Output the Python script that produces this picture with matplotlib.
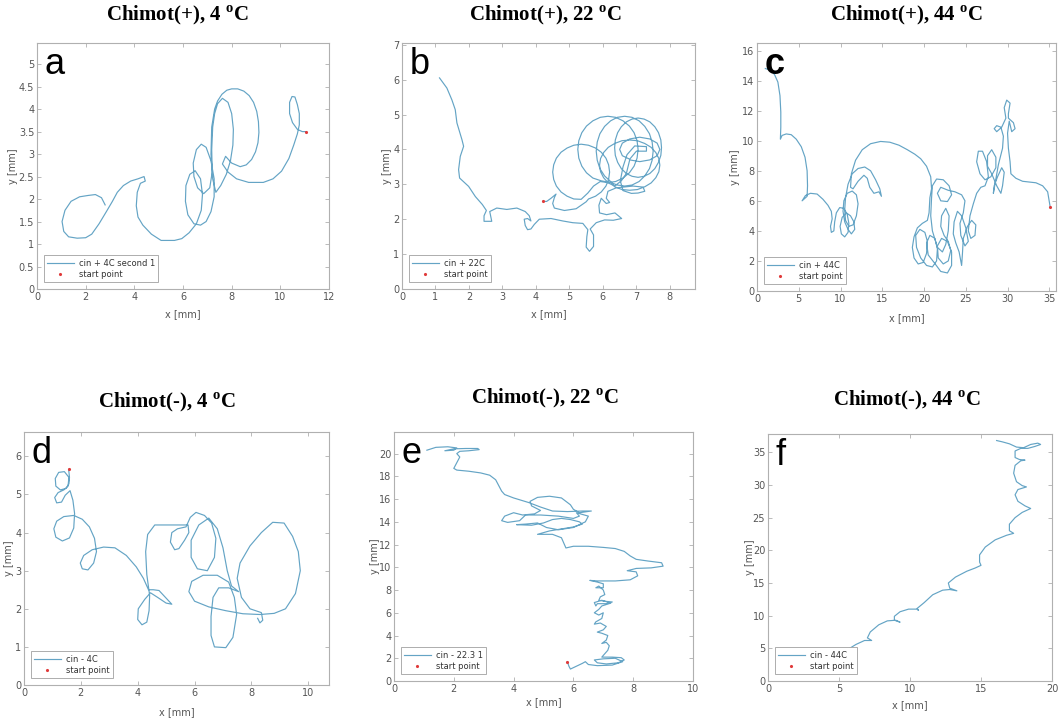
import matplotlib
matplotlib.use('Agg')
import matplotlib.pyplot as plt

plt.rcParams['mathtext.fontset'] = 'custom'
plt.rcParams['mathtext.rm'] = 'Liberation Serif'
plt.rcParams['mathtext.bf'] = 'Liberation Serif:bold'

# ---------------- data (mm) ----------------
titles = ["Chimot(+), 4 $^{\\mathbf{o}}$C", "Chimot(+), 22 $^{\\mathbf{o}}$C", "Chimot(+), 44 $^{\\mathbf{o}}$C",
          "Chimot(-), 4 $^{\\mathbf{o}}$C", "Chimot(-), 22 $^{\\mathbf{o}}$C", "Chimot(-), 44 $^{\\mathbf{o}}$C"]
letters = ["a", "b", "c", "d", "e", "f"]
legend_labels = ["cin + 4C second 1", "cin + 22C", "cin + 44C", "cin - 4C", "cin - 22.3 1", "cin - 44C"]

track_a = [(2.80,1.87),(2.65,2.03),(2.40,2.10),(2.10,2.08),(1.75,2.05),(1.40,1.95),(1.15,1.75),(1.03,1.50),
           (1.10,1.28),(1.30,1.16),(1.65,1.13),(2.00,1.14),(2.25,1.22),(2.55,1.45),(2.85,1.72),(3.10,1.95),
           (3.30,2.15),(3.55,2.30),(3.85,2.40),(4.15,2.45),(4.40,2.50),(4.45,2.40),(4.25,2.35),(4.12,2.15),
           (4.08,1.85),(4.15,1.60),(4.35,1.42),(4.70,1.22),(5.10,1.08),(5.65,1.08),(5.95,1.12),(6.25,1.25),
           (6.55,1.45),(6.75,1.75),(6.80,2.10),(6.72,2.45),(6.50,2.63),(6.28,2.55),(6.12,2.30),(6.10,1.95),
           (6.20,1.65),(6.45,1.45),(6.72,1.42),(6.95,1.50),(7.15,1.72),(7.28,2.05),(7.28,2.45),(7.15,2.85),
           (6.95,3.15),(6.75,3.22),(6.55,3.10),(6.42,2.80),(6.45,2.50),(6.60,2.25),(6.85,2.12),(7.10,2.25),
           (7.20,2.60),(7.18,3.10),(7.22,3.60),(7.30,3.90),(7.42,4.12),(7.62,4.24),(7.85,4.15),(8.00,3.90),
           (8.07,3.55),(8.05,3.20),(7.95,2.85),(7.78,2.55),(7.55,2.30),(7.35,2.15),(7.22,2.45),(7.15,3.00),
           (7.18,3.60),(7.30,4.00),(7.42,4.18),(7.60,4.33),(7.80,4.42),(8.00,4.45),(8.25,4.45),(8.50,4.40),
           (8.72,4.30),(8.90,4.15),(9.03,3.95),(9.10,3.72),(9.12,3.48),(9.08,3.25),(8.98,3.05),(8.82,2.88),
           (8.60,2.76),(8.35,2.72),(8.00,2.80),(7.75,2.95),(7.62,2.78),(7.85,2.60),(8.20,2.45),(8.70,2.37),
           (9.30,2.37),(9.70,2.45),(10.05,2.62),(10.35,2.90),(10.55,3.20),(10.70,3.45),(10.78,3.65),
           (10.78,3.90),(10.70,4.10),(10.60,4.27),(10.48,4.28),(10.38,4.15),(10.38,3.90),(10.50,3.70),
           (10.70,3.55),(10.90,3.50),(11.04,3.50)]
start_a = (11.04, 3.50)

track_b = [(4.20,2.51),(4.32,2.51),(4.45,2.60),(4.60,2.72),(4.55,2.62),(4.50,2.45),(4.55,2.32),(4.85,2.25),
           (5.20,2.30),(5.50,2.50),
           (5.57,2.58),(5.78,2.66),(5.95,2.78),(6.09,2.95),(6.17,3.14),(6.20,3.35),(6.17,3.56),(6.09,3.75),
           (5.95,3.92),(5.78,4.04),(5.57,4.12),(5.35,4.15),(5.13,4.12),(4.93,4.04),(4.75,3.92),(4.61,3.75),
           (4.53,3.56),(4.50,3.35),(4.53,3.14),(4.61,2.95),(4.75,2.78),(4.93,2.66),(5.13,2.58),(5.35,2.57),
           (5.55,2.75),(5.72,2.95),
           (5.92,3.08),(6.15,3.05),(6.38,3.08),(6.60,3.18),(6.79,3.33),(6.93,3.52),(7.02,3.75),(7.05,4.00),
           (7.02,4.25),(6.93,4.48),(6.79,4.67),(6.60,4.82),(6.38,4.92),(6.15,4.95),(5.92,4.92),(5.70,4.82),
           (5.51,4.67),(5.37,4.48),(5.28,4.25),(5.25,4.00),(5.28,3.75),(5.37,3.52),(5.51,3.33),(5.70,3.18),
           (5.95,3.10),(6.23,3.05),
           (6.43,2.98),(6.65,2.95),(6.87,2.98),(7.08,3.08),(7.25,3.24),(7.39,3.45),(7.47,3.69),(7.50,3.95),
           (7.47,4.21),(7.39,4.45),(7.25,4.66),(7.08,4.82),(6.87,4.92),(6.65,4.95),(6.43,4.92),(6.23,4.82),
           (6.05,4.66),(5.91,4.45),(5.83,4.21),(5.80,3.95),(5.83,3.69),(5.91,3.45),(6.05,3.24),(6.23,3.08),
           (6.35,2.93),(6.57,2.85),(6.80,2.83),(7.03,2.85),(7.25,2.93),(7.44,3.04),(7.58,3.19),(7.67,3.36),
           (7.70,3.55),(7.67,3.74),(7.58,3.91),(7.44,4.06),(7.25,4.17),(7.03,4.25),(6.80,4.27),(6.57,4.25),
           (6.35,4.17),(6.16,4.06),(6.02,3.91),(5.93,3.74),(5.90,3.55),(5.93,3.36),(6.02,3.19),(6.16,3.04),
           (6.35,2.95),(6.55,3.10),
           (6.70,3.31),(6.87,3.23),(7.05,3.20),(7.23,3.23),(7.40,3.31),(7.55,3.45),(7.66,3.63),(7.73,3.83),
           (7.75,4.05),(7.73,4.27),(7.66,4.48),(7.55,4.65),(7.40,4.79),(7.23,4.87),(7.05,4.90),(6.87,4.87),
           (6.70,4.79),(6.55,4.65),(6.44,4.48),(6.37,4.27),(6.35,4.05),(6.37,3.83),(6.44,3.63),(6.55,3.45),
           (6.70,3.31),
           (6.80,3.70),(7.10,3.65),(7.40,3.70),(7.62,3.82),(7.70,4.00),(7.62,4.18),(7.40,4.30),(7.10,4.35),
           (6.80,4.30),(6.58,4.18),(6.50,4.00),(6.58,3.82),(6.80,3.72),
           (7.00,3.95),(7.30,3.95),(7.30,4.08),(6.95,4.10),(6.72,3.85),(6.60,3.50),(6.52,3.10),(6.60,2.82),
           (6.85,2.74),(7.05,2.75),(7.25,2.80),(7.20,2.92),(6.90,2.95),(6.40,2.90),(6.15,2.80),(6.10,2.60),
           (6.20,2.48),(6.10,2.45),(5.95,2.60),(5.88,2.40),(5.90,2.18),(6.11,2.13),(6.36,2.18),(6.56,2.02),
           (6.31,1.97),(6.05,1.98),(5.80,1.90),(5.62,1.72),(5.72,1.55),(5.72,1.22),(5.60,1.08),(5.50,1.20),
           (5.52,1.50),(5.55,1.70),(5.40,1.88),(5.10,1.90),(4.80,1.95),(4.45,2.02),(4.10,2.00),(3.95,1.85),
           (3.85,1.72),(3.75,1.70),(3.68,1.82),(3.65,2.00),(3.75,2.02),(3.85,1.95),(3.80,2.10),(3.68,2.22),
           (3.43,2.32),(3.13,2.28),(2.83,2.32),(2.62,2.22),(2.68,1.94),(2.45,1.94),(2.45,2.10),(2.52,2.25),
           (2.40,2.42),(2.19,2.65),(1.99,2.94),(1.72,3.18),(1.69,3.42),(1.74,3.80),(1.84,4.09),(1.79,4.28),
           (1.64,4.76),(1.59,5.14),(1.49,5.42),(1.34,5.76),(1.12,6.05)]
start_b = (4.20, 2.51)

track_c = [(1.0,14.8),(1.6,14.7),(2.1,14.4),(2.5,13.9),(2.75,13.0),(2.85,11.9),(2.85,10.9),(2.8,10.1),
           (3.0,10.35),(3.5,10.45),(4.1,10.4),(4.7,10.1),(5.3,9.6),(5.75,8.9),(6.0,8.0),(6.05,7.0),(6.0,6.3),
           (5.4,6.0),(5.8,6.35),(6.4,6.5),(7.2,6.45),(7.9,6.1),(8.5,5.7),(8.9,5.3),(9.0,4.8),(8.8,4.3),
           (8.9,3.9),(9.2,4.0),(9.3,4.6),(9.5,5.2),(9.9,5.55),(10.4,5.5),(10.8,5.1),(11.0,4.5),(10.9,3.9),
           (10.5,3.6),(10.1,3.8),(9.95,4.3),(10.2,4.9),(10.7,5.2),(11.2,5.0),(11.6,4.6),(11.7,4.1),(11.3,3.8),
           (10.9,4.1),(10.5,4.6),(10.3,5.3),(10.4,6.0),(10.8,6.5),(11.4,6.65),(11.9,6.4),(12.1,5.8),(11.9,5.0),
           (11.5,4.4),(11.0,4.3),(10.6,4.7),(10.5,5.4),(10.6,6.2),(10.9,7.1),(11.4,7.8),(12.1,8.15),(12.9,8.25),
           (13.6,8.0),(14.2,7.4),(14.7,6.8),(14.9,6.3),(14.6,6.6),(14.0,6.5),(13.5,6.9),(13.2,7.5),(12.8,7.7),
           (12.1,7.3),(11.5,6.8),(11.2,6.9),(11.3,7.8),(11.8,8.7),(12.6,9.4),(13.6,9.8),(14.8,9.95),(15.9,9.9),
           (17.0,9.7),(18.0,9.4),(18.9,9.1),(19.6,8.8),(20.3,8.3),(20.8,7.6),(20.9,6.8),(20.7,6.2),(20.6,5.2),
           (20.4,4.7),(19.8,4.5),(19.2,4.2),(18.8,3.6),(18.6,2.9),(18.8,2.2),(19.3,1.8),(19.9,1.9),(20.3,2.5),
           (20.4,3.3),(20.1,3.9),(19.5,4.1),(19.0,3.7),(19.1,2.9),(19.6,2.2),(20.3,1.7),(21.0,1.6),(21.5,2.0),
           (21.6,2.8),(21.3,3.5),(20.7,3.7),(20.3,3.2),(20.5,2.4),(21.2,1.9),(22.0,1.3),(22.8,1.2),(23.3,1.7),
           (23.3,2.6),(22.8,3.3),(22.1,3.5),(21.6,3.0),(21.7,2.2),(22.3,1.8),(22.9,2.0),(23.2,2.7),(22.9,3.3),
           (22.4,3.7),(22.0,4.3),(22.1,5.0),(22.6,5.5),(23.0,5.0),(22.9,4.0),(22.6,3.1),(22.2,2.6),(21.6,2.9),
           (21.0,4.0),(20.8,5.0),(20.9,6.2),(21.0,7.0),(21.5,7.45),(22.3,7.4),(23.0,7.0),(23.3,6.4),(22.8,5.95),
           (22.0,6.0),(21.6,6.5),(22.0,6.9),(22.9,6.7),(23.7,6.6),(24.5,6.4),(24.9,6.0),(24.7,5.2),(24.3,4.5),
           (24.4,3.7),(24.9,3.0),(25.3,3.3),(25.0,4.2),(24.5,5.0),(24.0,5.3),(23.6,4.6),(23.5,3.8),(23.8,3.2),
           (24.2,2.6),(24.5,1.7),(24.6,2.5),(24.7,3.5),(25.2,4.3),(25.7,4.7),(26.2,4.4),(26.1,3.7),(25.6,3.5),
           (25.3,4.0),(25.5,5.0),(25.9,5.8),(26.3,6.5),(26.8,6.9),(27.3,7.0),(27.7,7.6),(27.5,8.6),(27.0,9.3),
           (26.5,9.3),(26.3,8.6),(26.7,7.8),(27.3,7.4),(28.0,7.6),(28.6,8.2),(28.6,8.9),(28.1,9.4),(27.6,9.0),
           (27.6,8.3),(28.1,7.8),(28.7,7.0),(29.2,6.5),(29.4,7.0),(29.6,7.9),(29.3,8.2),(28.8,7.6),(28.4,7.0),
           (28.3,6.5),(28.9,8.4),(29.4,9.5),(29.5,10.3),(29.2,10.9),(28.7,11.0),(28.4,10.8),(28.7,10.6),
           (29.3,10.9),(29.8,11.5),(29.6,12.2),(29.9,12.7),(30.3,12.5),(30.1,11.8),(30.1,11.5),(30.7,11.2),
           (30.9,10.8),(30.5,10.6),(30.2,11.3),(30.0,10.5),(30.1,9.5),(30.3,8.6),(30.4,7.8),(31.0,7.5),
           (31.8,7.3),(32.6,7.25),(33.4,7.2),(34.2,7.0),(34.8,6.6),(35.1,5.6)]
start_c = (35.1, 5.6)

track_d = [(1.57,5.66),(1.60,5.45),(1.58,5.28),(1.48,5.16),(1.28,5.12),(1.12,5.22),(1.10,5.42),(1.22,5.58),
           (1.42,5.60),(1.58,5.45),(1.55,5.22),(1.40,5.12),(1.20,5.05),(1.08,4.92),(1.15,4.78),(1.32,4.80),
           (1.45,4.98),(1.62,5.10),(1.72,4.85),(1.78,4.50),(1.75,4.12),(1.60,3.86),(1.35,3.78),(1.12,3.88),
           (1.05,4.10),(1.15,4.30),(1.40,4.42),(1.75,4.45),(2.05,4.35),(2.30,4.15),(2.48,3.85),(2.55,3.50),
           (2.45,3.20),(2.25,3.02),(2.05,3.05),(1.98,3.20),(2.10,3.40),(2.40,3.55),(2.80,3.62),(3.20,3.60),
           (3.60,3.40),(3.95,3.10),(4.20,2.80),(4.38,2.50),(4.55,2.50),(4.75,2.48),(4.95,2.32),(5.20,2.12),
           (5.00,2.15),(4.70,2.30),(4.45,2.42),(4.25,2.25),(4.02,2.00),(4.00,1.72),(4.15,1.58),(4.32,1.65),
           (4.40,1.95),(4.42,2.35),(4.32,2.90),(4.28,3.50),(4.35,3.95),(4.60,4.20),(5.20,4.20),(5.77,4.20),
           (5.80,4.00),(5.65,3.80),(5.45,3.58),(5.30,3.55),(5.15,3.75),(5.20,4.00),(5.40,4.10),(5.70,4.15),
           (5.85,4.40),(6.05,4.53),(6.35,4.45),(6.60,4.25),(6.75,3.85),(6.70,3.35),(6.45,3.00),(6.10,3.05),
           (5.88,3.35),(5.88,3.80),(6.15,4.20),(6.50,4.38),(6.80,4.10),(7.00,3.60),(7.15,3.00),(7.30,2.60),
           (7.55,2.45),(7.20,2.55),(6.85,2.55),(6.65,2.30),(6.58,1.80),(6.58,1.30),(6.70,1.00),(7.10,0.98),
           (7.35,1.25),(7.48,1.85),(7.40,2.30),(7.20,2.70),(6.80,2.88),(6.30,2.88),(5.90,2.72),(5.80,2.45),
           (6.00,2.20),(6.50,2.05),(7.10,1.95),(7.70,1.87),(8.30,1.85),(8.80,1.88),(9.20,2.00),(9.55,2.40),
           (9.72,3.00),(9.65,3.50),(9.45,3.90),(9.15,4.25),(8.75,4.27),(8.35,4.00),(7.95,3.65),(7.60,3.20),
           (7.50,2.80),(7.65,2.30),(7.95,2.00),(8.35,1.90),(8.40,1.70),(8.30,1.63),(8.22,1.75)]
start_d = (1.57, 5.66)

track_e = [(1.10,20.30),(1.40,20.55),(1.80,20.60),(2.10,20.50),(2.00,20.30),(1.70,20.25),(2.00,20.42),
           (2.40,20.45),(2.80,20.45),(2.85,20.35),(2.50,20.25),(2.20,20.20),(2.10,20.00),(2.20,19.70),
           (2.10,19.20),(2.00,18.70),(2.10,18.55),(2.50,18.45),(2.90,18.30),(3.20,18.10),(3.40,17.70),
           (3.50,17.20),(3.60,16.70),(3.70,16.40),(4.00,16.10),(4.50,15.70),(4.90,15.30),(5.30,14.95),
           (5.80,14.90),(6.30,14.95),(6.60,14.95),(6.20,14.80),(6.00,15.10),(5.90,15.50),(5.60,16.10),
           (5.20,16.25),(4.80,16.15),(4.55,15.80),(4.60,15.40),(4.90,15.00),(4.70,14.70),(4.30,14.60),
           (4.00,14.80),(3.70,14.50),(3.60,14.10),(3.80,13.95),(4.20,14.10),(4.40,14.60),(4.90,14.60),
           (5.50,14.50),(6.00,14.30),(6.20,14.50),(6.10,14.80),(6.50,14.50),(6.40,14.00),(6.00,13.50),
           (5.50,13.30),(5.10,13.50),(4.80,13.90),(4.40,13.80),(4.10,13.75),(4.60,13.70),(5.00,13.90),
           (5.30,14.20),(5.60,14.30),(5.90,14.20),(6.20,14.00),(6.30,13.80),(6.00,13.55),(5.20,13.20),
           (4.80,12.90),(5.30,12.90),(5.60,12.60),(5.70,12.00),(5.75,11.70),(6.00,11.85),(6.50,11.85),
           (7.00,11.75),(7.40,11.65),(7.70,11.40),(7.90,11.00),(8.10,10.70),(8.50,10.55),(8.95,10.40),
           (9.00,10.10),(8.60,9.95),(8.10,9.90),(7.80,9.70),(8.10,9.60),(8.15,9.25),(7.90,8.90),(7.40,8.80),
           (6.80,8.80),(6.55,8.85),(6.80,8.70),(7.00,8.55),(7.00,8.20),(6.75,8.20),(6.85,8.35),(7.00,8.00),
           (7.05,7.60),(6.90,7.40),(6.85,7.10),(7.10,7.00),(7.30,6.95),(7.10,6.80),(6.80,6.80),(6.75,6.60),
           (6.70,6.90),(6.95,7.10),(7.25,6.85),(6.95,6.60),(6.85,6.30),(6.70,6.00),(6.85,5.80),(7.00,6.00),
           (6.95,5.50),(6.75,5.20),(6.70,5.00),(6.90,5.10),(7.10,4.80),(7.00,4.50),(6.80,4.30),(6.95,4.20),
           (7.15,4.00),(7.10,3.60),(6.95,3.30),(7.10,3.40),(7.20,3.10),(7.15,2.70),(7.05,2.40),(6.95,2.10),
           (7.30,2.10),(7.60,2.05),(7.70,1.85),(7.50,1.60),(7.10,1.50),(6.80,1.60),(6.70,1.85),(7.00,1.95),
           (7.40,2.00),(7.65,1.70),(7.30,1.40),(6.80,1.35),(6.50,1.45),(6.40,1.70),(6.30,1.55),(6.10,1.30),
           (5.90,1.05),(5.85,1.30),(5.80,1.70)]
start_e = (5.80, 1.70)

track_f = [(6.1,4.5),(5.8,4.3),(5.5,4.4),(5.6,4.8),(6.2,5.6),(6.8,6.2),(7.3,6.2),(7.0,6.6),(7.2,7.5),
           (7.8,8.6),(8.4,9.2),(9.0,9.3),(9.3,9.0),(8.9,9.3),(8.9,9.9),(9.3,10.6),(9.9,11.0),(10.5,11.0),
           (10.6,10.8),(10.5,11.1),(11.0,12.0),(11.6,13.2),(12.3,13.9),(12.8,14.0),(13.3,13.8),(12.8,14.2),
           (12.7,15.0),(13.2,15.9),(14.0,16.8),(14.6,17.3),(15.0,17.7),(14.9,18.2),(14.9,19.3),(15.3,20.5),
           (16.0,21.6),(16.8,22.3),(17.3,22.6),(17.0,23.0),(17.0,24.0),(17.4,25.0),(17.9,25.8),(18.5,26.4),
           (18.1,26.8),(17.6,27.5),(17.4,28.5),(17.6,29.3),(18.2,29.7),(17.9,29.9),(17.5,30.5),(17.3,31.8),
           (17.4,33.0),(17.8,33.7),(18.1,33.8),(17.7,33.9),(17.4,34.2),(17.4,35.2),(17.8,35.6),(18.3,35.6),
           (18.8,35.9),(19.2,36.2),(19.0,36.4),(18.5,36.2),(18.0,35.7),(17.5,35.8),(17.0,36.3),(16.5,36.6),
           (16.1,36.8)]
start_f = (5.6, 4.5)

tracks = [track_a, track_b, track_c, track_d, track_e, track_f]
starts = [start_a, start_b, start_c, start_d, start_e, start_f]
xlims = [(0, 12), (0, 8.75), (0, 35.8), (0, 10.73), (0, 10), (0, 20)]
ylims = [(0, 5.47), (0, 7.05), (0, 16.5), (0, 6.64), (0, 21.9), (0, 37.8)]
xticks = [list(range(0, 13, 2)), list(range(0, 9)), list(range(0, 36, 5)),
          list(range(0, 11, 2)), list(range(0, 11, 2)), list(range(0, 21, 5))]
yticks = [[0, 0.5, 1, 1.5, 2, 2.5, 3, 3.5, 4, 4.5, 5], list(range(0, 8)), list(range(0, 17, 2)),
          list(range(0, 7)), list(range(0, 21, 2)), list(range(0, 36, 5))]

# ---------------- layout (pixels) ----------------
W, H = 1061, 719
boxes = [(37, 43, 329, 289), (402, 43, 695, 289), (757, 43, 1056, 291),
         (24, 432, 329, 685), (394, 432, 693, 681), (768, 434, 1052, 681)]
title_pos = [(177, 15), (546, 15), (907, 15), (167, 402), (545, 398), (907, 400)]
xlabel_pad = [5.0, 5.0, 6.5, 6.5, 2.5, 4.5]
ylabel_pad = [3.5, 4.0, 4.5, 4.0, 2.5, 1.5]
letter_weight = ['normal', 'normal', 'bold', 'normal', 'normal', 'normal']

fig = plt.figure(figsize=(W / 100, H / 100), dpi=100)
fig.patch.set_facecolor('white')

line_color = '#64a4c5'
spine_color = '#b0b0b0'

for i in range(6):
    l, t, r, b = boxes[i]
    ax = fig.add_axes([l / W, 1 - b / H, (r - l) / W, (b - t) / H])
    xs = [p[0] for p in tracks[i]]
    ys = [p[1] for p in tracks[i]]
    ax.plot(xs, ys, color=line_color, lw=0.85, label=legend_labels[i], solid_joinstyle='round')
    ax.plot([starts[i][0]], [starts[i][1]], linestyle='none', marker='.', color='#e03a3a',
            markersize=2.5, label='start point')
    ax.set_xlim(*xlims[i])
    ax.set_ylim(*ylims[i])
    ax.set_xticks(xticks[i])
    ax.set_yticks(yticks[i])
    ax.set_xticklabels([str(v) for v in xticks[i]])
    ax.set_yticklabels([('%g' % v) for v in yticks[i]])
    ax.tick_params(direction='in', top=True, right=True, length=3, width=0.6, colors=spine_color,
                   labelcolor='#555555', labelsize=7, pad=2)
    for s in ax.spines.values():
        s.set_color(spine_color)
        s.set_linewidth(0.8)
    ax.set_ylabel('y [mm]', fontsize=7, color='#555555', labelpad=ylabel_pad[i] - 3)
    ax.set_xlabel('x [mm]', fontsize=7, color='#555555', labelpad=xlabel_pad[i])
    leg = ax.legend(loc='lower left', fontsize=6, frameon=True, fancybox=False, framealpha=1,
                    edgecolor='#a0a0a0', borderaxespad=0.8, handlelength=3.2, borderpad=0.4,
                    labelspacing=0.3, handletextpad=0.6, numpoints=1)
    leg.get_frame().set_linewidth(0.6)
    for txt in leg.get_texts():
        txt.set_color('#333333')
    ax.text(0.025, 0.985, letters[i], transform=ax.transAxes, ha='left', va='top',
            fontsize=26, family='Liberation Sans', weight=letter_weight[i], color='black')
    tx, ty = title_pos[i]
    fig.text(tx / W, 1 - ty / H, titles[i], ha='center', va='center', fontsize=15,
             family='Liberation Serif', weight='bold')

fig.savefig('out.png', dpi=100, facecolor='white')
